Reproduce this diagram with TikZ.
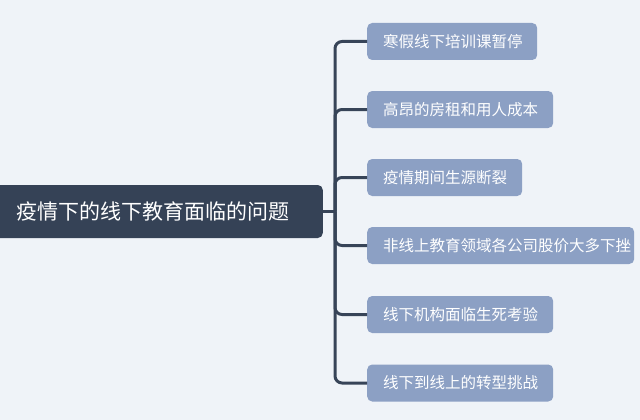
\documentclass[tikz,border=0pt]{standalone}
\usepackage{fontspec}
\newfontfamily\cjk{Noto Sans CJK SC}
\definecolor{bgc}{RGB}{239,243,248}
\definecolor{boxc}{RGB}{140,160,196}
\definecolor{rootc}{RGB}{53,66,86}
\definecolor{linec}{RGB}{55,68,88}
\begin{document}
\begin{tikzpicture}[x=1pt,y=-1pt,
  rootbox/.style={fill=rootc,text=white,rounded corners=5pt,minimum height=53pt,inner xsep=0pt,anchor=east,font=\cjk\fontsize{21}{25}\selectfont},
  leaf/.style={fill=boxc,text=white,rounded corners=5pt,minimum height=37pt,inner xsep=16pt,anchor=west,align=left,font=\cjk\fontsize{15.5}{19}\selectfont},
  conn/.style={draw=linec,line width=3pt,rounded corners=7pt}]
\fill[bgc] (0,0) rectangle (640,420);
\useasboundingbox (0,0) rectangle (640,420);
\node[rootbox,minimum width=343pt,text width=326pt] (root) at (323,211.5) {\hspace*{28pt}疫情下的线下教育面临的问题};
\node[leaf,text width=138pt] (c1) at (367,41.5) {寒假线下培训课暂停};
\node[leaf,text width=154pt] (c2) at (367,109.5) {高昂的房租和用人成本};
\node[leaf,text width=123pt] (c3) at (367,177.5) {疫情期间生源断裂};
\node[leaf,text width=235pt] (c4) at (367,245.5) {\rlap{非线上教育领域各公司股价大多下挫}};
\node[leaf,text width=154pt] (c5) at (367,314.5) {线下机构面临生死考验};
\node[leaf,text width=154pt] (c6) at (367,383) {线下到线上的转型挑战};
\coordinate (j) at ([xshift=12pt]root.east);
\draw[conn] (root.east) -- (j);
\foreach \c in {c1,c2,c3,c4,c5,c6}{\draw[conn] (j) |- (\c.west);}
\end{tikzpicture}
\end{document}
